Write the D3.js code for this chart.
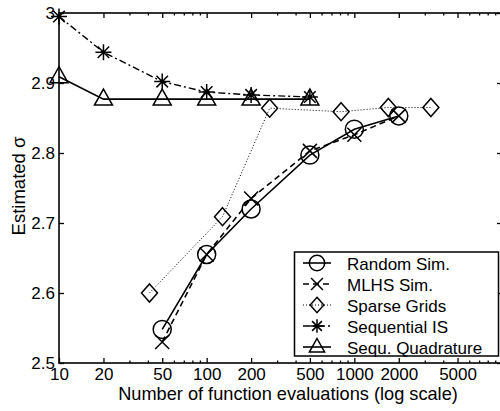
<!DOCTYPE html>
<html>
<head>
<meta charset="utf-8">
<script src="https://cdn.jsdelivr.net/npm/d3@7"></script>
<style>
body { margin: 0; background: #fff; }
text { font-family: "Liberation Sans", Arial, sans-serif; font-size: 17px; fill: #000; }
</style>
</head>
<body>
<script>
// values
var randomN = [50, 100, 200, 500, 1000, 2000];
var randomVal = [2.548, 2.655, 2.720, 2.797, 2.834, 2.853];
var mlhsN = [50, 100, 200, 500, 1000, 2000];
var mlhsVal = [2.530, 2.655, 2.735, 2.803, 2.826, 2.853];
var sparseN = [41, 128, 267, 813, 1700, 3300];
var sparseVal = [2.600, 2.709, 2.864, 2.859, 2.865, 2.865];
var seqIsN = [10, 20, 50, 100, 200, 500];
var seqIsVal = [2.995, 2.944, 2.902, 2.887, 2.883, 2.880];
var seqQuadN = [10, 20, 50, 100, 200, 500];
var seqQuadVal = [2.909, 2.877, 2.877, 2.877, 2.877, 2.877];

var xMajor = [10, 20, 50, 100, 200, 500, 1000, 2000, 5000];
var yTicks = [2.5, 2.6, 2.7, 2.8, 2.9, 3];
var legendNames = ["Random Sim.", "MLHS Sim.", "Sparse Grids", "Sequential IS", "Sequ. Quadrature"];

var width = 500, height = 411;
var pLeft = 59, pRight = 502, pTop = 13, pBottom = 363;

var svg = d3.select("body").append("svg")
	.attr("width", width)
	.attr("height", height);

var x = d3.scaleLog().domain([10, 10000]).range([pLeft, pRight]);
var y = d3.scaleLinear().domain([2.5, 3]).range([pBottom, pTop]);

// minor ticks for the log axis
var xMinor = [];
[10, 100, 1000].forEach(function(b) {
	for (var k = 2; k <= 9; k++) {
		if (xMajor.indexOf(k * b) < 0) xMinor.push(k * b);
	}
});

// axes (ticks pointing inward)
svg.append("g")
	.attr("class", "x-axis")
	.attr("transform", "translate(0," + pBottom + ")")
	.call(d3.axisBottom(x).tickValues(xMajor).tickFormat(d3.format("d"))
		.tickSize(-5).tickSizeOuter(0).tickPadding(5));
svg.append("g")
	.attr("class", "x-minor")
	.attr("transform", "translate(0," + pBottom + ")")
	.call(d3.axisBottom(x).tickValues(xMinor).tickFormat("").tickSize(-2.5).tickSizeOuter(0));
svg.append("g")
	.attr("class", "x-top")
	.attr("transform", "translate(0," + pTop + ")")
	.call(d3.axisTop(x).tickValues(xMajor).tickFormat("").tickSize(-5).tickSizeOuter(0));
svg.append("g")
	.attr("class", "x-top-minor")
	.attr("transform", "translate(0," + pTop + ")")
	.call(d3.axisTop(x).tickValues(xMinor).tickFormat("").tickSize(-2.5).tickSizeOuter(0));
svg.append("g")
	.attr("class", "y-axis")
	.attr("transform", "translate(" + pLeft + ",0)")
	.call(d3.axisLeft(y).tickValues(yTicks).tickFormat(function(d) { return String(d); })
		.tickSize(-5).tickSizeOuter(0).tickPadding(4));
svg.append("g")
	.attr("class", "y-right")
	.attr("transform", "translate(" + pRight + ",0)")
	.call(d3.axisRight(y).tickValues(yTicks).tickFormat("").tickSize(-5).tickSizeOuter(0));

svg.selectAll(".domain").remove();
svg.selectAll(".tick line").attr("stroke", "#000").attr("stroke-width", 1.3);
svg.selectAll(".tick text").attr("font-size", 17).attr("font-family", "Liberation Sans, Arial, sans-serif");

// frame
svg.append("rect")
	.attr("x", pLeft).attr("y", pTop)
	.attr("width", pRight - pLeft).attr("height", pBottom - pTop)
	.attr("fill", "none").attr("stroke", "#000").attr("stroke-width", 1.6);

// axis labels
svg.append("text")
	.attr("x", 288)
	.attr("y", 400)
	.style("text-anchor", "middle")
	.style("font-size", "18.2px")
	.text("Number of function evaluations (log scale)");
svg.append("text")
	.attr("transform", "translate(25,186) rotate(-90)")
	.style("text-anchor", "middle")
	.style("font-size", "18.5px")
	.text("Estimated \u03c3");

// marker shapes
function marker(g, type, s) {
	var p;
	if (type == "circle") {
		g.append("circle").attr("r", 9 * s);
	} else if (type == "x") {
		p = 7 * s;
		g.append("path").attr("d", "M" + -p + "," + -p + "L" + p + "," + p + "M" + -p + "," + p + "L" + p + "," + -p);
	} else if (type == "diamond") {
		g.append("path").attr("d", "M0," + (-9 * s) + "L" + (8 * s) + ",0L0," + (9 * s) + "L" + (-8 * s) + ",0Z");
	} else if (type == "star") {
		p = 8 * s;
		var q = p * 0.72;
		g.append("path").attr("d", "M" + -p + ",0L" + p + ",0M0," + -p + "L0," + p +
			"M" + -q + "," + -q + "L" + q + "," + q + "M" + -q + "," + q + "L" + q + "," + -q);
	} else if (type == "triangle") {
		g.append("path").attr("d", "M0," + (-10 * s) + "L" + (9 * s) + "," + (6 * s) + "L" + (-9 * s) + "," + (6 * s) + "Z");
	}
	g.selectAll("circle, path").attr("fill", "none").attr("stroke", "#000").attr("stroke-width", 1.5);
}

var series = [
	{name: legendNames[0], n: randomN, v: randomVal, marker: "circle", dash: null, w: 1.6},
	{name: legendNames[1], n: mlhsN, v: mlhsVal, marker: "x", dash: "6,4", w: 1.6},
	{name: legendNames[2], n: sparseN, v: sparseVal, marker: "diamond", dash: "1,2", w: 1},
	{name: legendNames[3], n: seqIsN, v: seqIsVal, marker: "star", dash: "7,3,2,3", w: 1.4},
	{name: legendNames[4], n: seqQuadN, v: seqQuadVal, marker: "triangle", dash: null, w: 1.6}
];

var line = d3.line()
	.x(function(d) { return x(d[0]); })
	.y(function(d) { return y(d[1]); });

series.forEach(function(s) {
	var pts = s.n.map(function(n, i) { return [n, s.v[i]]; });
	svg.append("path")
		.datum(pts)
		.attr("d", line)
		.attr("fill", "none")
		.attr("stroke", "#000")
		.attr("stroke-width", s.w)
		.attr("stroke-dasharray", s.dash);
	svg.selectAll(null)
		.data(pts)
		.enter().append("g")
		.attr("transform", function(d) { return "translate(" + x(d[0]) + "," + y(d[1]) + ")"; })
		.each(function() { marker(d3.select(this), s.marker, 1); });
});

// legend
var legend = svg.append("g").attr("class", "legend");
legend.append("rect")
	.attr("x", 294.5).attr("y", 252)
	.attr("width", 204).attr("height", 104)
	.attr("fill", "#fff").attr("stroke", "#000").attr("stroke-width", 1.5);
series.forEach(function(s, i) {
	var ly = 263 + i * 21;
	legend.append("line")
		.attr("x1", 303).attr("x2", 331)
		.attr("y1", ly).attr("y2", ly)
		.attr("stroke", "#000")
		.attr("stroke-width", s.w)
		.attr("stroke-dasharray", s.dash);
	var g = legend.append("g").attr("transform", "translate(317," + ly + ")");
	marker(g, s.marker, 0.85);
	legend.append("text")
		.attr("x", 347)
		.attr("y", ly + 6.5)
		.text(s.name);
});
</script>
</body>
</html>
